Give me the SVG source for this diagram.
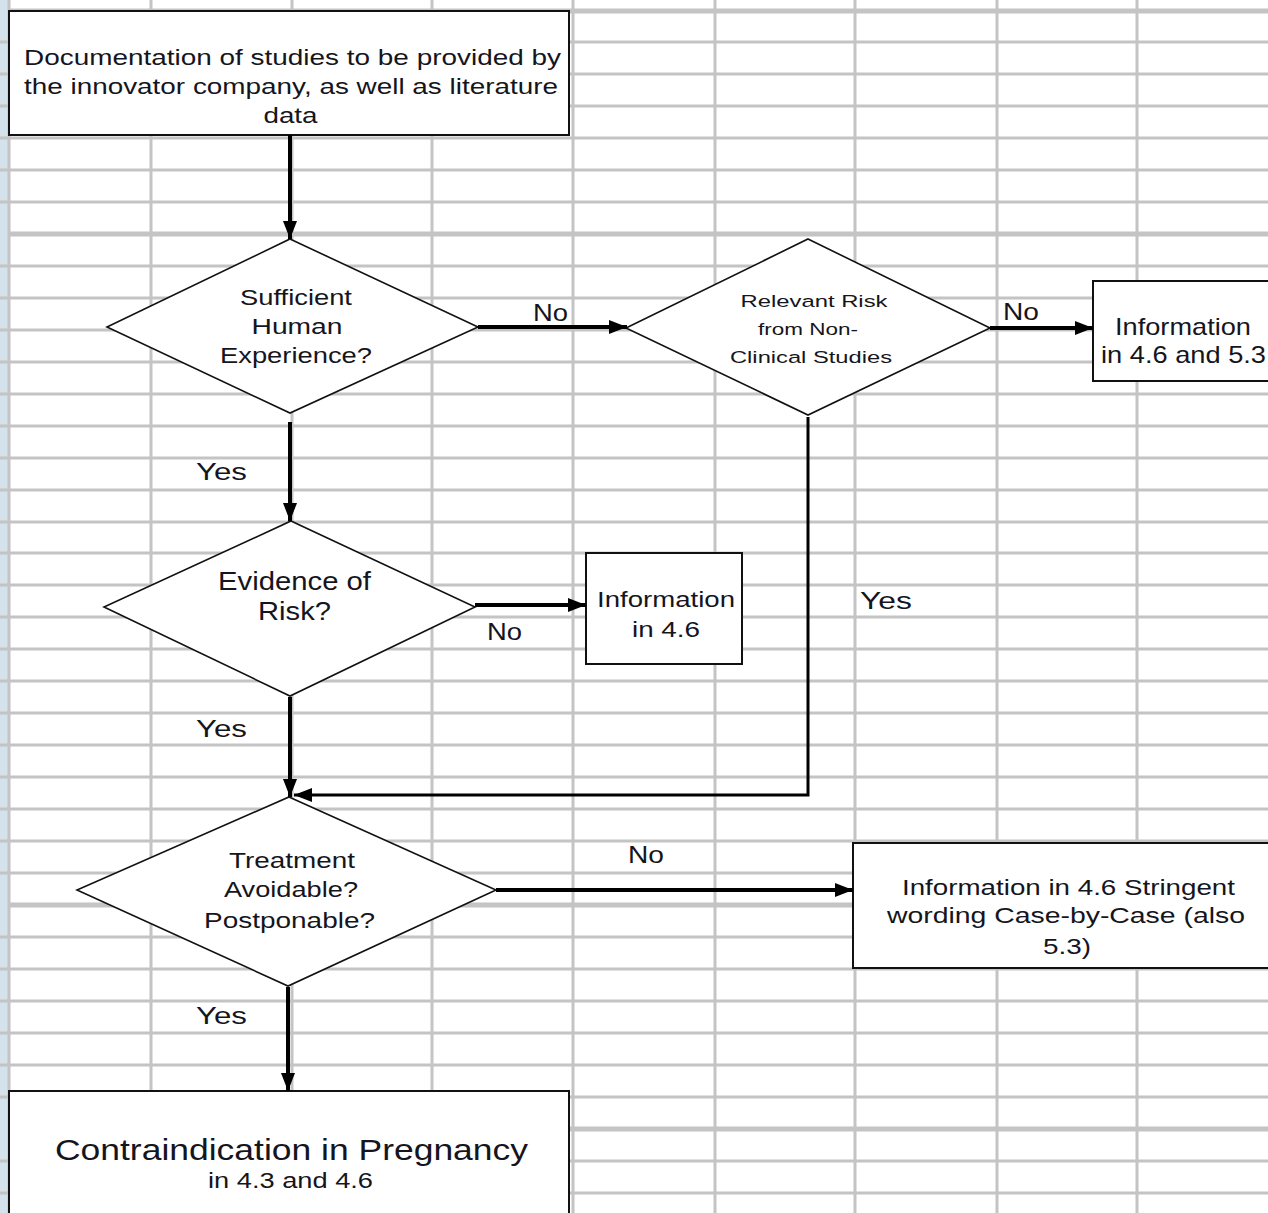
<svg xmlns="http://www.w3.org/2000/svg" width="1268" height="1213" viewBox="0 0 1268 1213">
<defs>
<style>
.bg{fill:#ffffff}
.strip{fill:#d3e2eb}
.g{stroke:#c4c4c4;stroke-width:3;fill:none}
.gt{stroke:#c4c4c4;stroke-width:5;fill:none}
.box{fill:#ffffff;stroke:#111111;stroke-width:2}
.dia{fill:#ffffff;stroke:#111111;stroke-width:1.6}
.con{fill:none;stroke:#000000;stroke-width:4}
.con2{fill:none;stroke:#000000;stroke-width:3}
text{font-family:"Liberation Sans",Arial,sans-serif;fill:#151520;text-anchor:middle}
.t22{font-size:22px}
.t17{font-size:17px}
.t23{font-size:23px}
.t24{font-size:24px}
.t25{font-size:25px}
.t30{font-size:30px}
</style>
<marker id="ah" markerUnits="userSpaceOnUse" markerWidth="20" markerHeight="16" refX="18" refY="7" orient="auto">
<path d="M0,0 L18,7 L0,14 z" fill="#000000"/>
</marker>
</defs>

<g id="background">
<rect class="bg" x="0" y="0" width="1268" height="1213"/>
<rect class="strip" x="0" y="0" width="8" height="1213"/>
<path class="g" d="M0,42H1268M0,74H1268M0,106H1268M0,138H1268M0,170H1268M0,202H1268M0,266H1268M0,298H1268M0,330H1268M0,362H1268M0,394H1268M0,426H1268M0,458H1268M0,490H1268M0,522H1268M0,553H1268M0,585H1268M0,617H1268M0,649H1268M0,681H1268M0,713H1268M0,745H1268M0,777H1268M0,809H1268M0,841H1268M0,873H1268M0,937H1268M0,969H1268M0,1001H1268M0,1033H1268M0,1065H1268M0,1097H1268M0,1161H1268M0,1193H1268"/>
<path class="gt" d="M8,11H1268M8,234H1268M8,905H1268M8,1129H1268"/>
<path class="g" d="M9,0V1213M151,0V1213M292,0V1213M432,0V1213M573,0V1213M715,0V1213M855,0V1213M997,0V1213M1137,0V1213"/>
</g>

<g id="node-documentation">
<rect class="box" x="9" y="11" width="560" height="124"/>
<text class="t22" transform="matrix(1.2 0 0 1 -58.5 0)" x="292.5" y="65" textLength="447.5" lengthAdjust="spacingAndGlyphs">Documentation of studies to be provided by</text>
<text class="t22" transform="matrix(1.2 0 0 1 -58.2 0)" x="291" y="94" textLength="445" lengthAdjust="spacingAndGlyphs">the innovator company, as well as literature</text>
<text class="t22" transform="matrix(1.2 0 0 1 -58.1 0)" x="290.5" y="123" textLength="45" lengthAdjust="spacingAndGlyphs">data</text>
</g>

<g id="node-sufficient">
<polygon class="dia" points="290,239 478,327 290,413 107,327"/>
<text class="t22" transform="matrix(1.2 0 0 1 -59.2 0)" x="296" y="305" textLength="93.3" lengthAdjust="spacingAndGlyphs">Sufficient</text>
<text class="t22" transform="matrix(1.2 0 0 1 -59.4 0)" x="297" y="334" textLength="75.8" lengthAdjust="spacingAndGlyphs">Human</text>
<text class="t22" transform="matrix(1.2 0 0 1 -59.2 0)" x="296" y="363" textLength="126.7" lengthAdjust="spacingAndGlyphs">Experience?</text>
</g>

<g id="node-relevant-risk">
<polygon class="dia" points="808,239 990,328 808,415 626,328"/>
<text class="t17" transform="matrix(1.2 0 0 1 -162.8 0)" x="814" y="307" textLength="122.5" lengthAdjust="spacingAndGlyphs">Relevant Risk</text>
<text class="t17" transform="matrix(1.2 0 0 1 -161.6 0)" x="808" y="335" textLength="83.3" lengthAdjust="spacingAndGlyphs">from Non-</text>
<text class="t17" transform="matrix(1.2 0 0 1 -162.2 0)" x="811" y="363" textLength="135" lengthAdjust="spacingAndGlyphs">Clinical Studies</text>
</g>

<g id="node-info-46-53">
<rect class="box" x="1093" y="281" width="190" height="100"/>
<text class="t23" transform="matrix(1.2 0 0 1 -236.6 0)" x="1183" y="335" textLength="113.3" lengthAdjust="spacingAndGlyphs">Information</text>
<text class="t23" transform="matrix(1.2 0 0 1 -236.7 0)" x="1183.5" y="363" textLength="137.5" lengthAdjust="spacingAndGlyphs">in 4.6 and 5.3</text>
</g>

<g id="node-evidence">
<polygon class="dia" points="291,521 475,607 290,696 104,607"/>
<text class="t25" transform="matrix(1.2 0 0 1 -58.9 0)" x="294.5" y="590" textLength="127.5" lengthAdjust="spacingAndGlyphs">Evidence of</text>
<text class="t25" transform="matrix(1.2 0 0 1 -58.9 0)" x="294.5" y="620" textLength="60.8" lengthAdjust="spacingAndGlyphs">Risk?</text>
</g>

<g id="node-info-46">
<rect class="box" x="586" y="553" width="156" height="111"/>
<text class="t22" transform="matrix(1.2 0 0 1 -133.2 0)" x="666" y="607" textLength="115" lengthAdjust="spacingAndGlyphs">Information</text>
<text class="t22" transform="matrix(1.2 0 0 1 -133.2 0)" x="666" y="637" textLength="56.7" lengthAdjust="spacingAndGlyphs">in 4.6</text>
</g>

<g id="node-treatment">
<polygon class="dia" points="289,797 496,890 288,986 77,890"/>
<text class="t22" transform="matrix(1.2 0 0 1 -58.4 0)" x="292" y="868" textLength="105" lengthAdjust="spacingAndGlyphs">Treatment</text>
<text class="t22" transform="matrix(1.2 0 0 1 -58.2 0)" x="291" y="897" textLength="111.7" lengthAdjust="spacingAndGlyphs">Avoidable?</text>
<text class="t22" transform="matrix(1.2 0 0 1 -57.9 0)" x="289.5" y="928" textLength="142.5" lengthAdjust="spacingAndGlyphs">Postponable?</text>
</g>

<g id="node-info-stringent">
<rect class="box" x="853" y="843" width="430" height="125"/>
<text class="t22" transform="matrix(1.2 0 0 1 -213.7 0)" x="1068.5" y="895" textLength="277.5" lengthAdjust="spacingAndGlyphs">Information in 4.6 Stringent</text>
<text class="t22" transform="matrix(1.2 0 0 1 -213.2 0)" x="1066" y="923" textLength="298.3" lengthAdjust="spacingAndGlyphs">wording Case-by-Case (also</text>
<text class="t22" transform="matrix(1.2 0 0 1 -213.4 0)" x="1067" y="954" textLength="40" lengthAdjust="spacingAndGlyphs">5.3)</text>
</g>

<g id="node-contraindication">
<rect class="box" x="9" y="1091" width="560" height="140"/>
<text class="t30" transform="matrix(1.2 0 0 1 -58.3 0)" x="291.5" y="1160" textLength="394.2" lengthAdjust="spacingAndGlyphs">Contraindication in Pregnancy</text>
<text class="t22" transform="matrix(1.2 0 0 1 -58.1 0)" x="290.5" y="1188" textLength="137.5" lengthAdjust="spacingAndGlyphs">in 4.3 and 4.6</text>
</g>

<g id="connectors">
<path class="con" d="M290,135V239" marker-end="url(#ah)"/>
<path class="con" d="M478,327H627" marker-end="url(#ah)"/>
<path class="con" d="M990,328H1093" marker-end="url(#ah)"/>
<path class="con" d="M290,422V521" marker-end="url(#ah)"/>
<path class="con" d="M475,605H586" marker-end="url(#ah)"/>
<path class="con" d="M290,697V797" marker-end="url(#ah)"/>
<path class="con2" d="M808,417V795H294" marker-end="url(#ah)"/>
<path class="con" d="M496,890H853" marker-end="url(#ah)"/>
<path class="con" d="M288,987V1091" marker-end="url(#ah)"/>
<text class="t24" transform="matrix(1.2 0 0 1 -110.1 0)" x="550.5" y="321" textLength="29.2" lengthAdjust="spacingAndGlyphs">No</text>
<text class="t24" transform="matrix(1.2 0 0 1 -204.2 0)" x="1021" y="320" textLength="30" lengthAdjust="spacingAndGlyphs">No</text>
<text class="t24" transform="matrix(1.2 0 0 1 -100.9 0)" x="504.5" y="640" textLength="29.2" lengthAdjust="spacingAndGlyphs">No</text>
<text class="t24" transform="matrix(1.2 0 0 1 -129.2 0)" x="646" y="863" textLength="30" lengthAdjust="spacingAndGlyphs">No</text>
<text class="t24" transform="matrix(1.2 0 0 1 -44.3 0)" x="221.5" y="480" textLength="42.5" lengthAdjust="spacingAndGlyphs">Yes</text>
<text class="t24" transform="matrix(1.2 0 0 1 -44.3 0)" x="221.5" y="737" textLength="42.5" lengthAdjust="spacingAndGlyphs">Yes</text>
<text class="t24" transform="matrix(1.2 0 0 1 -177.2 0)" x="886" y="609" textLength="43.3" lengthAdjust="spacingAndGlyphs">Yes</text>
<text class="t24" transform="matrix(1.2 0 0 1 -44.3 0)" x="221.5" y="1024" textLength="42.5" lengthAdjust="spacingAndGlyphs">Yes</text>
</g>
</svg>
